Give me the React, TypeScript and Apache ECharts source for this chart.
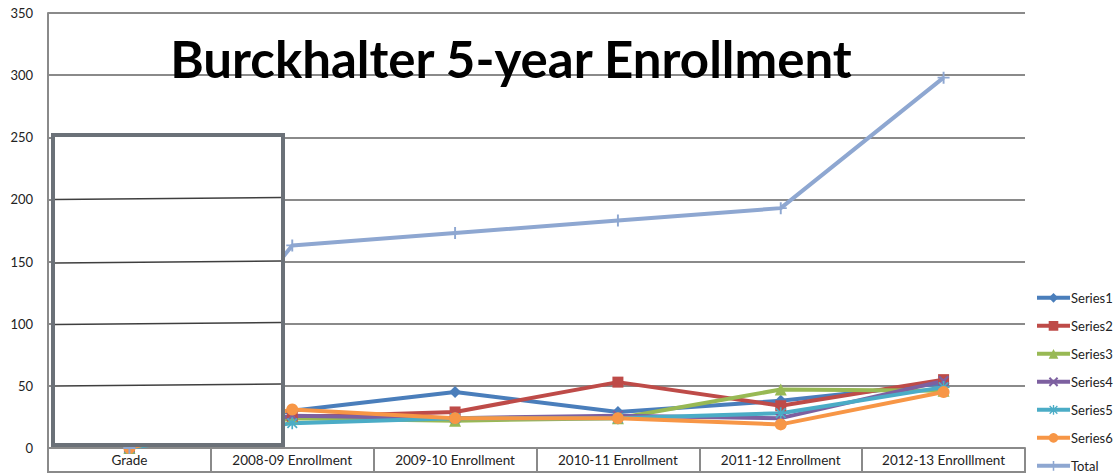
import React, { useEffect, useRef } from "react";
import * as echarts from "echarts";

const categories = [
  "Grade",
  "2008-09 Enrollment",
  "2009-10 Enrollment",
  "2010-11 Enrollment",
  "2011-12 Enrollment",
  "2012-13 Enrolllment",
];
const series1 = [0, 30, 45, 29, 38, 52];
const series2 = [0, 25, 29, 53, 34, 55];
const series3 = [0, 24, 22, 24, 47, 46];
const series4 = [0, 26, 24, 26, 24, 54];
const series5 = [0, 20, 24, 24, 28, 49];
const series6 = [0, 31, 24, 24, 19, 45];
const total = [0, 163, 173, 183, 193, 298];
const yTicks = { min: 0, max: 350, interval: 50 };

const FONT = "Lato, 'Open Sans', sans-serif";

const X_PATH =
  "path://M1.5,0 L5,3.5 L8.5,0 L10,1.5 L6.5,5 L10,8.5 L8.5,10 L5,6.5 L1.5,10 L0,8.5 L3.5,5 L0,1.5 Z";
const PLUS_PATH = "path://M4.2,0 H5.8 V4.2 H10 V5.8 H5.8 V10 H4.2 V5.8 H0 V4.2 H4.2 Z";
const STAR_PATH =
  "path://M4.3,0 H5.7 V4.3 H10 V5.7 H5.7 V10 H4.3 V5.7 H0 V4.3 H4.3 Z M1.5,0.5 L5,4 L8.5,0.5 L9.5,1.5 L6,5 L9.5,8.5 L8.5,9.5 L5,6 L1.5,9.5 L0.5,8.5 L4,5 L0.5,1.5 Z";

export default function App() {
  const ref = useRef<HTMLDivElement>(null);
  useEffect(() => {
    if (!ref.current) return;
    const chart = echarts.init(ref.current, undefined, { renderer: "svg" });
    const mk = (
      name: string,
      data: number[],
      color: string,
      symbol: string,
      symbolSize: number
    ) => ({
      name,
      type: "line",
      data,
      symbol,
      symbolSize,
      showAllSymbol: true,
      lineStyle: { color, width: 4 },
      itemStyle: { color, borderWidth: 0 },
      emphasis: { disabled: true },
      z: 3,
    });
    const gridColor = "#8a8a8a";
    chart.setOption({
      animation: false,
      textStyle: { fontFamily: FONT },
      title: {
        text: "Burckhalter 5-year Enrollment",
        left: 506,
        textAlign: "center",
        top: 28,
        textStyle: { fontFamily: FONT, fontSize: 51, fontWeight: "bold", color: "#000" },
        z: 20,
      },
      grid: { left: 48, right: 93, top: 13, bottom: 26, containLabel: false },
      legend: {
        orient: "vertical",
        left: 1035,
        top: 290,
        height: 230,
        padding: 0,
        itemWidth: 33,
        itemHeight: 12,
        itemGap: 12.3,
        lineStyle: { width: 4 },
        textStyle: {
          fontFamily: FONT,
          fontSize: 13,
          lineHeight: 15.7,
          color: "#222",
          padding: [0, 0, 0, -4],
        },
        data: ["Series1", "Series2", "Series3", "Series4", "Series5", "Series6", "Total"],
      },
      xAxis: [
        {
          type: "category",
          data: categories,
          boundaryGap: true,
          axisLine: { lineStyle: { color: gridColor, width: 2 } },
          axisTick: { show: true, length: 25, lineStyle: { color: gridColor, width: 2 } },
          axisLabel: { fontFamily: FONT, fontSize: 13.5, color: "#222", margin: 5, interval: 0 },
          splitLine: { show: false },
        },
        {
          type: "category",
          data: categories,
          position: "bottom",
          offset: 24,
          axisLine: { show: true, lineStyle: { color: gridColor, width: 2 } },
          axisTick: { show: false },
          axisLabel: { show: false },
        },
      ],
      yAxis: {
        type: "value",
        min: yTicks.min,
        max: yTicks.max,
        interval: yTicks.interval,
        axisLine: { show: true, lineStyle: { color: gridColor, width: 2 } },
        axisTick: { show: false },
        axisLabel: { fontFamily: FONT, fontSize: 13, color: "#222", margin: 15 },
        splitLine: { show: true, lineStyle: { color: gridColor, width: 2 } },
      },
      series: [
        mk("Series1", series1, "#4A7EBB", "diamond", 12),
        mk("Series2", series2, "#BE4B48", "rect", 11),
        mk("Series3", series3, "#98B954", "triangle", 12),
        mk("Series4", series4, "#7D60A0", X_PATH, 11),
        mk("Series5", series5, "#4BACC6", STAR_PATH, 12),
        mk("Series6", series6, "#F79646", "circle", 12),
        mk("Total", total, "#8EA7D1", PLUS_PATH, 12),
      ],
      graphic: [
        {
          type: "group",
          z: 10,
          children: [
            {
              type: "rect",
              shape: { x: 53, y: 135, width: 230, height: 310 },
              style: { fill: "#fff", stroke: "#6b7178", lineWidth: 4 },
              z: 10,
            },
            {
              type: "line",
              shape: { x1: 55, y1: 199.5, x2: 281, y2: 197.5 },
              style: { stroke: "#3f3f3f", lineWidth: 1.5 },
              z: 11,
            },
            {
              type: "line",
              shape: { x1: 55, y1: 263, x2: 281, y2: 261 },
              style: { stroke: "#3f3f3f", lineWidth: 1.5 },
              z: 11,
            },
            {
              type: "line",
              shape: { x1: 55, y1: 324.5, x2: 281, y2: 322.5 },
              style: { stroke: "#3f3f3f", lineWidth: 1.5 },
              z: 11,
            },
            {
              type: "line",
              shape: { x1: 55, y1: 386, x2: 281, y2: 384 },
              style: { stroke: "#3f3f3f", lineWidth: 1.5 },
              z: 11,
            },
          ],
        },
      ],
    });
    return () => chart.dispose();
  }, []);
  return (
    <div
      ref={ref}
      style={{ position: "absolute", left: 0, top: 0, width: 1118, height: 474, background: "#fff" }}
    />
  );
}
